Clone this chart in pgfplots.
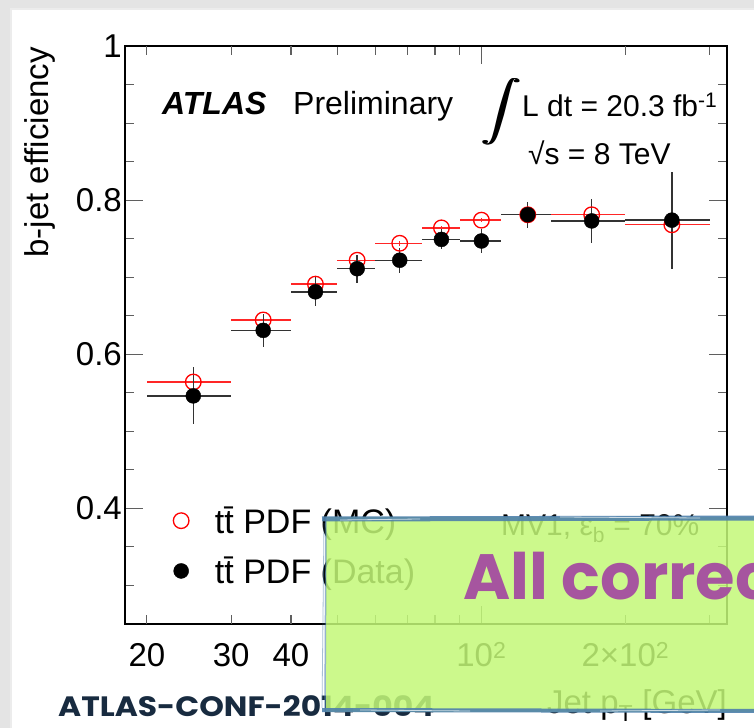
\documentclass[border=0pt]{standalone}
\usepackage{fontspec}
\setmainfont{Liberation Sans}
\newfontfamily\popfont{Poppins}
\usepackage{graphicx}
\usepackage{pgfplots}
\pgfplotsset{compat=1.18}
\definecolor{slidegray}{RGB}{228,228,228}
\definecolor{boxgreen}{RGB}{196,249,120}
\definecolor{brushblue}{RGB}{78,128,172}
\definecolor{purp}{RGB}{166,85,159}
\definecolor{navy}{RGB}{24,43,64}
\definecolor{tickgray}{RGB}{95,95,95}
\newcommand{\fs}{\fontsize{33bp}{38bp}\selectfont}
\newcommand{\bigint}{\scalebox{4.0}[3.0]{$\displaystyle\int$}}
\begin{document}
\begin{tikzpicture}
\begin{scope}[x=1bp,y=1bp]
\fill[slidegray] (0,0) rectangle (754,728);
\useasboundingbox (0,0) rectangle (754,728);
\fill[gray!15] (10,0) rectangle (754,720);
\fill[white] (12,0) rectangle (754,718);
\end{scope}
\begin{axis}[
  at={(125bp,104bp)}, anchor=south west, scale only axis,
  width=602bp, height=578bp,
  xmode=log, xmin=18, xmax=326, ymin=0.25, ymax=1,
  axis line style={line width=1.5bp, black},
  tick align=inside,
  major tick length=18bp, minor tick length=9bp,
  tick style={tickgray, line width=1.1bp},
  xtick={100}, xticklabels={10\textsuperscript{2}},
  minor xtick={50,60,70,80,90,300},
  extra x ticks={20,30,40,200},
  extra x tick labels={20,30,40,2×10\textsuperscript{2}},
  extra x tick style={major tick length=9bp},
  ytick={0.4,0.6,0.8,1}, yticklabels={0.4,0.6,0.8,1},
  minor ytick={0.3,0.35,0.45,0.5,0.55,0.65,0.7,0.75,0.85,0.9,0.95},
  tick label style={font=\fs},
  xticklabel style={anchor=base, inner sep=0pt, yshift=-43bp},
  yticklabel style={anchor=east, inner sep=0pt, xshift=-3bp},
  clip=false,
  legend style={draw=none, fill=none, at={(0.08,0.207)}, anchor=north west,
    font=\fontsize{34bp}{38bp}\selectfont, row sep=18bp, inner sep=0pt,
    /tikz/every odd column/.append style={column sep=24bp}},
  legend cell align=left,
]
\addplot[only marks, red, mark=o, mark size=7.8bp,
  mark options={fill=white, draw=red, line width=1.3bp},
  error bars/.cd, x dir=both, x explicit, y dir=both, y explicit,
  error mark=none, error bar style={line width=1.4bp, red!85}]
coordinates {
(25,0.564) +- (5,0.003)
(35,0.6445) +- (5,0.003)
(45,0.691) +- (5,0.003)
(55,0.722) +- (5,0.003)
(67.5,0.744) +- (7.5,0.003)
(82.5,0.764) +- (7.5,0.003)
(100,0.774) +- (10,0.003)
(125,0.781) +- (15,0.003)
(170,0.781) +- (30,0.004)
(250,0.768) +- (50,0.005)
};
\addlegendentry{t\=t PDF (MC)}
\addplot[only marks, black, mark=*, mark size=7.5bp,
  mark options={fill=black, draw=black},
  error bars/.cd, x dir=both, x explicit, y dir=both, y explicit,
  error mark=none, error bar style={line width=1.4bp, black!80}]
coordinates {
(25,0.546) +- (5,0.037)
(35,0.631) +- (5,0.021)
(45,0.681) +- (5,0.019)
(55,0.711) +- (5,0.018)
(67.5,0.722) +- (7.5,0.016)
(82.5,0.749) +- (7.5,0.013)
(100,0.747) +- (10,0.016)
(125,0.781) +- (15,0.017)
(170,0.773) +- (30,0.028)
(250,0.774) +- (50,0.063)
};
\addlegendentry{t\=t PDF (Data)}
\end{axis}
\begin{scope}[x=1bp,y=1bp]
\clip (0,0) rectangle (754,728);
\node[rotate=90, anchor=base east, font=\fs, inner sep=0pt] at (48,681) {b-jet efficiency};
\node[anchor=base east, font=\fs, inner sep=0pt] at (727,14) {Jet p\textsubscript{T} [GeV]};
\node[anchor=base west, inner sep=0pt, font=\fontsize{32bp}{36bp}\selectfont\bfseries\itshape] at (162,613) {ATLAS};
\node[anchor=base west, inner sep=0pt, font=\fontsize{32bp}{36bp}\selectfont] at (293,613) {Preliminary};
\node[inner sep=0pt] at (500,616) {\bigint};
\node[inner sep=0pt] at (501.2,616) {\bigint};
\node[inner sep=0pt] at (502.4,616) {\bigint};
\node[anchor=base west, inner sep=0pt, font=\fontsize{30bp}{34bp}\selectfont] at (522,611) {L dt = 20.3 fb\textsuperscript{-1}};
\node[anchor=base west, inner sep=0pt, font=\fontsize{30bp}{34bp}\selectfont] at (528,563) {√s = 8 TeV};
\node[anchor=base west, inner sep=0pt, font=\fontsize{30bp}{34bp}\selectfont] at (501,192) {MV1, ε\textsubscript{b} = 70\%};
\node[anchor=base west, inner sep=0pt, navy, font=\popfont\fontsize{28bp}{30bp}\selectfont\bfseries] at (58,11) {\scalebox{1.12}[1]{ATLAS-CONF-2014-004}};
\fill[boxgreen, opacity=0.85] (326,16) rectangle (760,211);
\draw[brushblue, line width=5bp, opacity=0.9] (322,209) -- (760,210);
\draw[white, line width=0.8bp, opacity=0.7] (340,208) -- (420,209) (560,211) -- (700,210);
\draw[brushblue, line width=4bp, opacity=0.9] (322,18) -- (760,17);
\draw[white, line width=0.8bp, opacity=0.7] (360,18) -- (470,17) (600,17) -- (720,18);
\draw[brushblue, line width=1.5bp, opacity=0.6] (325,16) -- (326,211);
\draw[brushblue, line width=0.8bp, opacity=0.5] (322,20) -- (324,205);
\node[anchor=base west, inner sep=0pt, purp, font=\popfont\fontsize{64bp}{70bp}\selectfont\bfseries] at (463,128) {All correc};
\end{scope}
\end{tikzpicture}
\end{document}
